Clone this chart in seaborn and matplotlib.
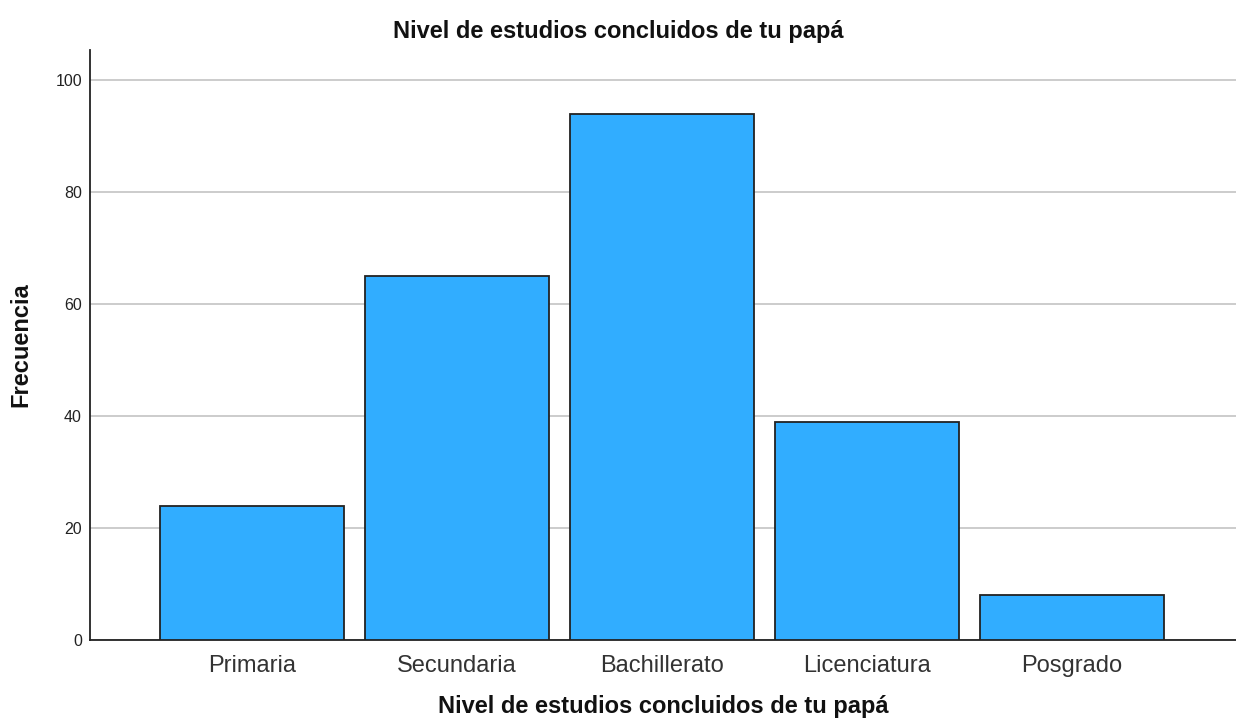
import matplotlib
matplotlib.use("Agg")
import matplotlib.pyplot as plt
import seaborn as sns
import pandas as pd

categories = ["Primaria", "Secundaria", "Bachillerato", "Licenciatura", "Posgrado"]
frecuencia = [24, 65, 94, 39, 8]
y_ticks = [0, 20, 40, 60, 80, 100]
title = "Nivel de estudios concluidos de tu papá"

df = pd.DataFrame({"cat": categories, "freq": frecuencia})

sns.set_theme(style="white")
plt.rcParams["font.family"] = ["Liberation Sans", "DejaVu Sans"]

fig = plt.figure(figsize=(12.36, 7.22), dpi=100)
ax = fig.add_axes([0.0728, 0.1136, 0.9272, 0.8171])

sns.barplot(data=df, x="cat", y="freq", color="#31adff", saturation=1,
            edgecolor="#222222", linewidth=1.3, width=0.9, ax=ax, zorder=3)

ax.set_ylim(0, 105.4)
ax.set_xlim(-0.79, 4.8)
ax.set_yticks(y_ticks)
ax.yaxis.grid(True, color="#c4c4c4", linewidth=1.2, zorder=0)
ax.xaxis.grid(False)
ax.set_axisbelow(True)

for s in ["top", "right"]:
    ax.spines[s].set_visible(False)
for s in ["left", "bottom"]:
    ax.spines[s].set_visible(True)
    ax.spines[s].set_color("#222222")
    ax.spines[s].set_linewidth(1.3)

ax.tick_params(axis="y", length=0, labelsize=11.5, labelcolor="#222222", pad=5.8)
ax.tick_params(axis="x", length=0, labelsize=17, labelcolor="#333333", pad=11)

ax.set_xlabel(title, fontsize=17, fontweight="bold", color="#111111")
ax.xaxis.set_label_coords(0.5, -0.094)
ax.set_ylabel("Frecuencia", fontsize=17, fontweight="bold", color="#111111")
ax.yaxis.set_label_coords(-0.05, 0.5)

fig.text(0.5, 1 - 38 / 722, title, ha="center", va="baseline",
         fontsize=17, fontweight="bold", color="#111111")

fig.savefig("out.png", dpi=100)
